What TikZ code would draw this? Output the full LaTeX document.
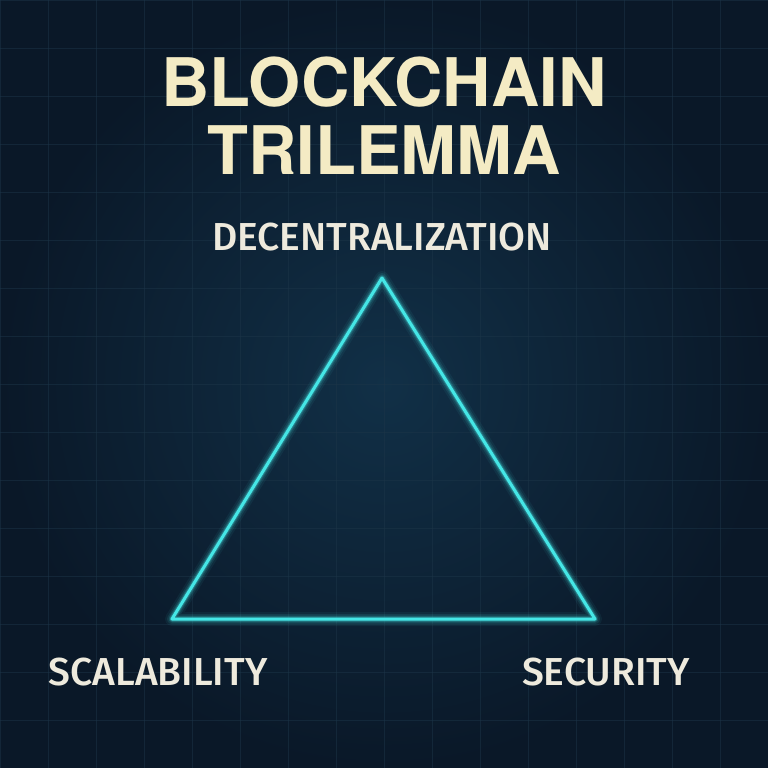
\documentclass[tikz,border=0pt]{standalone}
\usepackage{fontspec}
\setmainfont{Fira Sans}[BoldFont={Fira Sans Medium}]
\newfontfamily\titlefont{TeX Gyre Heros}
\definecolor{bg}{HTML}{0A1828}
\definecolor{bgc}{HTML}{113047}
\definecolor{cream}{HTML}{F4EBC4}
\definecolor{lbl}{HTML}{EEEADD}
\definecolor{cy}{HTML}{45E6E6}
\definecolor{gridc}{HTML}{1C3548}
\tikzset{lab/.style={text=lbl,font=\bfseries\fontsize{39}{40}\selectfont, inner sep=0pt},
title/.style={text=cream,font=\titlefont\bfseries\fontsize{67}{68}\selectfont, inner sep=0pt}}
\begin{document}
\begin{tikzpicture}[x=1pt,y=-1pt]
\useasboundingbox (0,0) rectangle (768,768);
\fill[bg] (0,0) rectangle (768,768);
\fill[inner color=bgc, outer color=bg] (0,0) rectangle (768,768);
\foreach \i in {0,48,...,768} {
  \draw[gridc, line width=0.8pt, opacity=0.5] (\i,0)--(\i,768);
  \draw[gridc, line width=0.8pt, opacity=0.5] (0,\i)--(768,\i);
}
\node[title] (t1) at (384,82) {BLOCKCHAIN};
\node[title] (t2) at (384,150) {TRILEMMA};
\coordinate (A) at (382,278);
\coordinate (B) at (172,619);
\coordinate (C) at (595,619);
\foreach \w/\o in {14/0.06,10/0.1,7/0.15,5/0.25}
  \draw[cy, line width=\w pt, opacity=\o, line join=round] (A)--(B)--(C)--cycle;
\draw[cy, line width=3pt, line join=round] (A)--(B)--(C)--cycle;
\node[lab] (d) at (382,237) {DECENTRALIZATION};
\node[lab] (s) at (158,672) {SCALABILITY};
\node[lab] (r) at (606,672) {SECURITY};
\end{tikzpicture}
\end{document}
